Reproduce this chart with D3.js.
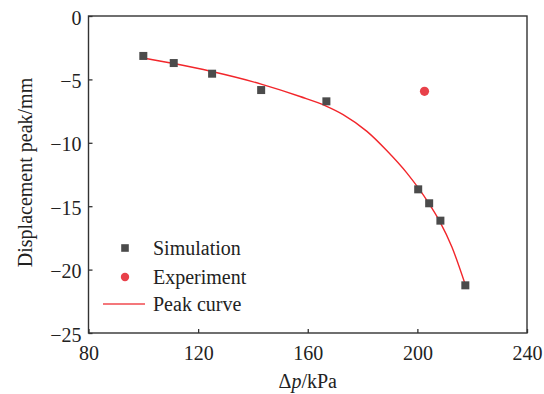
<!DOCTYPE html>
<html>
<head>
<meta charset="utf-8">
<script src="https://cdn.jsdelivr.net/npm/d3@7"></script>
<style>
html,body{margin:0;padding:0;background:#fff;}
svg{display:block;}
</style>
</head>
<body>
<svg id="chart" width="544" height="394"></svg>
<script>
// Data
const simX = [100, 111.1, 125.1, 143, 166.8, 200.3, 204.3, 208.4, 217.5];
const simY = [-3.15, -3.71, -4.55, -5.84, -6.73, -13.67, -14.77, -16.14, -21.24];
const expX = [202.6];
const expY = [-5.94];
const curveX = [100, 111.1, 125, 143, 157.2, 166.7, 172.9, 181.6, 188.9, 196.2, 200.2, 204.2, 208.2, 212.6, 217.5];
const curveY = [-3.31, -3.75, -4.38, -5.37, -6.35, -7.1, -7.77, -9.1, -10.63, -12.39, -13.52, -14.78, -16.22, -18.22, -21.2];
const xTicks = [80, 120, 160, 200, 240];
const yTicks = [0, -5, -10, -15, -20, -25];
const legendLabels = ["Simulation", "Experiment", "Peak curve"];

const FONT = "'Liberation Serif', 'Times New Roman', Tinos, Times";
const svg = d3.select("#chart");
const L = 88.5, R = 527, T = 16, B = 333;
const x = d3.scaleLinear().domain([80, 240]).range([L, R]);
const y = d3.scaleLinear().domain([-25, 0]).range([B, T]);

const axisColor = "#333";
const fs = 20;
const txtColor = "#222";

// Frame
svg.append("rect").attr("x", L).attr("y", T).attr("width", R - L).attr("height", B - T)
  .attr("fill", "none").attr("stroke", axisColor).attr("stroke-width", 1.4);

// X axis (inner ticks)
const xa = svg.append("g").attr("transform", `translate(0,${B})`)
  .call(d3.axisBottom(x).tickValues(xTicks).tickSizeInner(-4).tickSizeOuter(0).tickPadding(12));
xa.select(".domain").remove();
xa.selectAll("line").attr("stroke", axisColor).attr("stroke-width", 1.3);
xa.selectAll("text").attr("font-size", fs).attr("fill", txtColor)
  .style("font-family", FONT).attr("dy", "0.75em");

// Y axis (inner ticks)
const ya = svg.append("g").attr("transform", `translate(${L},0)`)
  .call(d3.axisLeft(y).tickValues(yTicks).tickSizeInner(-4).tickSizeOuter(0).tickPadding(7)
    .tickFormat(d => d === 0 ? "0" : "\u2212" + Math.abs(d)));
ya.select(".domain").remove();
ya.selectAll("line").attr("stroke", axisColor).attr("stroke-width", 1.3);
ya.selectAll("text").attr("font-size", fs).attr("fill", txtColor)
  .style("font-family", FONT).attr("dy", "0.4em");

// Axis titles
const xt = svg.append("text").attr("x", (L + R) / 2).attr("y", 388)
  .attr("text-anchor", "middle").attr("font-size", fs).attr("fill", txtColor)
  .style("font-family", FONT);
xt.append("tspan").text("\u0394");
xt.append("tspan").attr("font-style", "italic").text("p");
xt.append("tspan").text("/kPa");

svg.append("text").attr("transform", `translate(32,${(77 + 268) / 2}) rotate(-90)`)
  .attr("text-anchor", "middle").attr("font-size", fs).attr("fill", txtColor)
  .style("font-family", FONT).text("Displacement peak/mm");

// Curve
const curvePts = curveX.map((d, i) => [d, curveY[i]]);
svg.append("path").datum(curvePts)
  .attr("d", d3.line().x(d => x(d[0])).y(d => y(d[1])).curve(d3.curveMonotoneX))
  .attr("fill", "none").attr("stroke", "#f2262b").attr("stroke-width", 1.4);

// Simulation squares
const sq = 8;
svg.append("g").selectAll("rect").data(simX.map((d, i) => [d, simY[i]])).join("rect")
  .attr("x", d => x(d[0]) - sq / 2).attr("y", d => y(d[1]) - sq / 2)
  .attr("width", sq).attr("height", sq).attr("fill", "#4b4b4b");

// Experiment
svg.append("g").selectAll("circle").data(expX.map((d, i) => [d, expY[i]])).join("circle")
  .attr("cx", d => x(d[0])).attr("cy", d => y(d[1])).attr("r", 4.6).attr("fill", "#e8414a");

// Legend
const lg = svg.append("g");
const rows = [248, 277, 304];
lg.append("rect").attr("x", 125 - 3.8).attr("y", rows[0] - 3.8).attr("width", 7.6).attr("height", 7.6).attr("fill", "#4b4b4b");
lg.append("circle").attr("cx", 125).attr("cy", rows[1]).attr("r", 4.2).attr("fill", "#e8414a");
lg.append("line").attr("x1", 103).attr("x2", 145).attr("y1", rows[2]).attr("y2", rows[2])
  .attr("stroke", "#f04a4f").attr("stroke-width", 1.4);
legendLabels.forEach((t, i) => {
  lg.append("text").attr("x", 153).attr("y", rows[i] + 7).attr("font-size", fs)
    .attr("fill", txtColor).style("font-family", FONT).text(t);
});
</script>
</body>
</html>
